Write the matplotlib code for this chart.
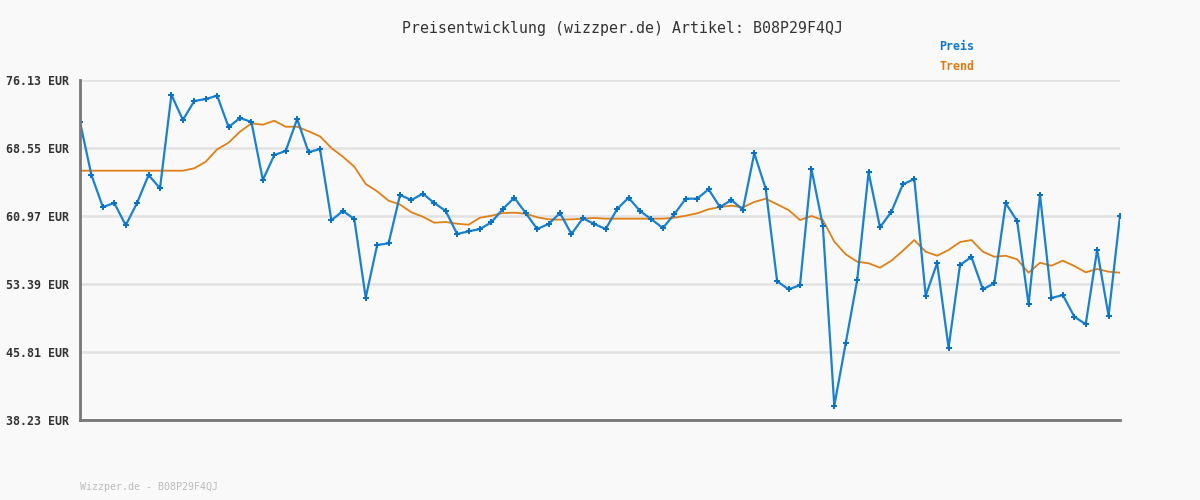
import matplotlib
matplotlib.use("Agg")
import matplotlib.pyplot as plt

title = "Preisentwicklung (wizzper.de) Artikel: B08P29F4QJ"
footer = "Wizzper.de - B08P29F4QJ"
yticks = [38.23, 45.81, 53.39, 60.97, 68.55, 76.13]
ytick_labels = ["38.23 EUR", "45.81 EUR", "53.39 EUR", "60.97 EUR", "68.55 EUR", "76.13 EUR"]

preis = [71.45, 65.54, 61.97, 62.42, 59.93, 62.45, 65.54, 64.06, 74.49, 71.67,
         73.79, 74.01, 74.38, 70.89, 71.89, 71.45, 64.98, 67.77, 68.22, 71.78,
         68.07, 68.44, 60.49, 61.53, 60.64, 51.86, 57.74, 57.92, 63.31, 62.75,
         63.46, 62.42, 61.53, 58.96, 59.26, 59.52, 60.27, 61.75, 63.01, 61.30,
         59.52, 60.08, 61.30, 58.96, 60.71, 60.08, 59.52, 61.75, 63.01, 61.53,
         60.60, 59.63, 61.16, 62.90, 62.90, 63.95, 61.97, 62.75, 61.67, 67.96,
         64.01, 53.69, 52.80, 53.25, 66.21, 59.89, 39.82, 46.78, 53.80, 65.84,
         59.71, 61.45, 64.50, 65.09, 52.09, 55.73, 46.29, 55.51, 56.40, 52.80,
         53.47, 62.39, 60.41, 51.13, 63.31, 51.83, 52.16, 49.75, 48.90, 57.18,
         49.86, 61.00]

trend = [66.02, 66.02, 66.02, 66.02, 66.02, 66.02, 66.02, 66.02, 66.02, 66.02,
         66.29, 67.02, 68.40, 69.14, 70.37, 71.30, 71.15, 71.59, 70.92, 70.92,
         70.41, 69.85, 68.55, 67.58, 66.47, 64.54, 63.72, 62.68, 62.25, 61.38,
         60.89, 60.22, 60.30, 60.11, 60.00, 60.78, 61.00, 61.30, 61.34, 61.23,
         60.83, 60.60, 60.56, 60.60, 60.67, 60.75, 60.67, 60.67, 60.67, 60.67,
         60.67, 60.67, 60.78, 61.00, 61.27, 61.72, 61.97, 62.12, 61.94, 62.53,
         62.90, 62.27, 61.64, 60.52, 60.97, 60.52, 58.11, 56.70, 55.88, 55.70,
         55.21, 55.99, 57.10, 58.29, 56.99, 56.54, 57.18, 58.07, 58.29, 56.99,
         56.43, 56.54, 56.14, 54.65, 55.76, 55.43, 55.99, 55.40, 54.69, 55.06,
         54.76, 54.65]

bg = "#f9f9f9"
blue = "#1a80d0"
orange = "#e07f15"

fig = plt.figure(figsize=(12, 5), dpi=100, facecolor=bg)
ax = fig.add_axes([80/1200, 80/500, 1040/1200, 340/500], facecolor=bg)

x = list(range(len(preis)))
ax.plot(x, trend, color=orange, lw=1.3, zorder=3)
ax.plot(x, preis, color=blue, lw=1.6, marker="P", markersize=4,
        markeredgewidth=0, markerfacecolor="#0a72c4", zorder=4)

ax.set_xlim(0, len(preis) - 1)
ax.set_ylim(yticks[0], yticks[-1])
ax.set_yticks(yticks)
ax.set_yticklabels(ytick_labels, family="DejaVu Sans Mono", fontsize=8.4,
                   fontweight="bold", color="#333333")
ax.set_xticks([])
ax.tick_params(axis="y", length=0, pad=8)
ax.grid(axis="y", color="#e2e2e2", lw=1.8, zorder=0)
ax.set_axisbelow(True)
for s in ["top", "right"]:
    ax.spines[s].set_visible(False)
for s in ["left", "bottom"]:
    ax.spines[s].set_color("#777777")
    ax.spines[s].set_linewidth(2)
    ax.spines[s].set_zorder(5)

fig.text(623/1200, 1 - 28/500, title, ha="center", va="center",
         family="DejaVu Sans Mono", fontsize=10.7, color="#333333")
fig.text(939/1200, 1 - 47/500, "Preis", ha="left", va="center",
         family="DejaVu Sans Mono", fontsize=8.4, fontweight="bold", color="#0f78c8")
fig.text(939/1200, 1 - 67/500, "Trend", ha="left", va="center",
         family="DejaVu Sans Mono", fontsize=8.4, fontweight="bold", color="#dd7a10")
fig.text(80/1200, 1 - 487/500, footer, ha="left", va="center",
         family="DejaVu Sans Mono", fontsize=7.2, color="#bbbbbb")

fig.savefig("out.png", dpi=100, facecolor=bg)
